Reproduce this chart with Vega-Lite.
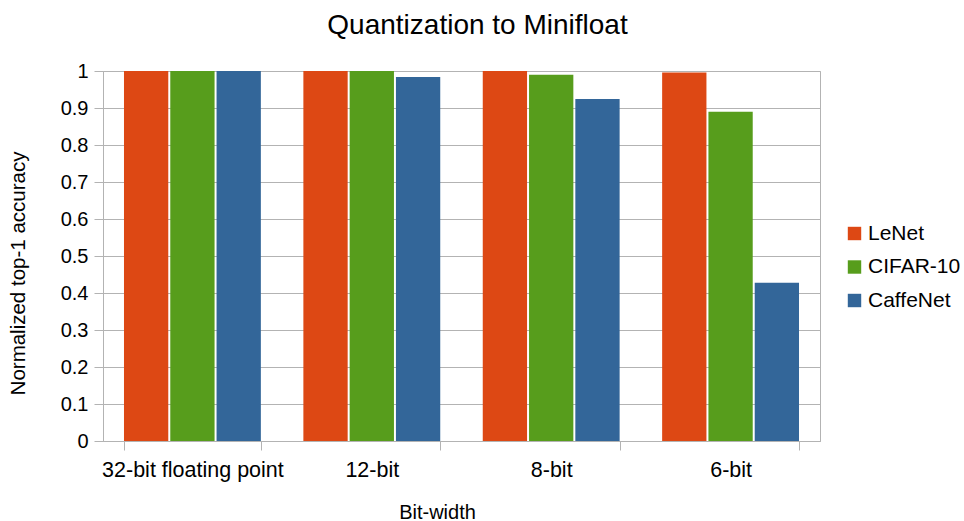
{
  "$schema": "https://vega.github.io/schema/vega-lite/v6.json",
  "width": 717,
  "height": 370,
  "autosize": {"type": "none"},
  "padding": {"left": 103, "top": 71, "right": 144, "bottom": 80},
  "background": "white",
  "title": {
    "text": "Quantization to Minifloat",
    "font": "Liberation Sans",
    "fontSize": 28,
    "fontWeight": "normal",
    "color": "black",
    "anchor": "middle",
    "dx": 16,
    "offset": 21
  },
  "config": {
    "font": "Liberation Sans",
    "view": {"stroke": "#b3b3b3", "strokeWidth": 1}
  },
  "data": {
    "values": [
      {"bits": "32-bit floating point", "net": "LeNet", "acc": 1.0},
      {"bits": "32-bit floating point", "net": "CIFAR-10", "acc": 1.0},
      {"bits": "32-bit floating point", "net": "CaffeNet", "acc": 1.0},
      {"bits": "12-bit", "net": "LeNet", "acc": 1.0},
      {"bits": "12-bit", "net": "CIFAR-10", "acc": 1.0},
      {"bits": "12-bit", "net": "CaffeNet", "acc": 0.984},
      {"bits": "8-bit", "net": "LeNet", "acc": 1.0},
      {"bits": "8-bit", "net": "CIFAR-10", "acc": 0.99},
      {"bits": "8-bit", "net": "CaffeNet", "acc": 0.924},
      {"bits": "6-bit", "net": "LeNet", "acc": 0.996},
      {"bits": "6-bit", "net": "CIFAR-10", "acc": 0.89},
      {"bits": "6-bit", "net": "CaffeNet", "acc": 0.428}
    ]
  },
  "mark": {"type": "bar"},
  "encoding": {
    "x": {
      "field": "bits",
      "type": "nominal",
      "sort": ["32-bit floating point", "12-bit", "8-bit", "6-bit"],
      "scale": {"paddingInner": 0.237, "paddingOuter": 0.117},
      "axis": {
        "title": "Bit-width",
        "titleFont": "Liberation Sans",
        "titleFontSize": 20,
        "titleFontWeight": "normal",
        "titleColor": "black",
        "titleX": 334,
        "titleY": 71,
        "titleBaseline": "middle",
        "labelAngle": 0,
        "labelFontSize": 21.5,
        "labelLimit": 400,
        "labelOverlap": false,
        "labelColor": "black",
        "labelPadding": 9,
        "tickBand": "extent",
        "tickSize": 9,
        "tickColor": "#b3b3b3",
        "domainColor": "#b3b3b3",
        "grid": false
      }
    },
    "xOffset": {
      "field": "net",
      "type": "nominal",
      "sort": ["LeNet", "CIFAR-10", "CaffeNet"],
      "scale": {"paddingInner": 0.043, "paddingOuter": 0}
    },
    "y": {
      "field": "acc",
      "type": "quantitative",
      "scale": {"domain": [0, 1], "nice": false},
      "axis": {
        "title": "Normalized top-1 accuracy",
        "titleFontSize": 20.5,
        "titleFontWeight": "normal",
        "titleColor": "black",
        "titleX": -85,
        "titleY": 202,
        "titleBaseline": "middle",
        "titleAlign": "center",
        "values": [0, 0.1, 0.2, 0.3, 0.4, 0.5, 0.6, 0.7, 0.8, 0.9, 1],
        "format": "~g",
        "labelFontSize": 20,
        "labelColor": "black",
        "labelPadding": 6,
        "tickSize": 9,
        "tickColor": "#b3b3b3",
        "domainColor": "#b3b3b3",
        "gridColor": "#b3b3b3",
        "labelFlush": false
      }
    },
    "color": {
      "field": "net",
      "type": "nominal",
      "sort": ["LeNet", "CIFAR-10", "CaffeNet"],
      "scale": {
        "domain": ["LeNet", "CIFAR-10", "CaffeNet"],
        "range": ["#dd4814", "#579d1c", "#336699"]
      },
      "legend": {
        "title": null,
        "orient": "none",
        "legendX": 741,
        "legendY": 152,
        "symbolType": "square",
        "symbolSize": 180,
        "symbolStrokeWidth": 0,
        "labelFontSize": 21,
        "labelColor": "black",
        "labelOffset": 3,
        "rowPadding": 11.5
      }
    }
  }
}
